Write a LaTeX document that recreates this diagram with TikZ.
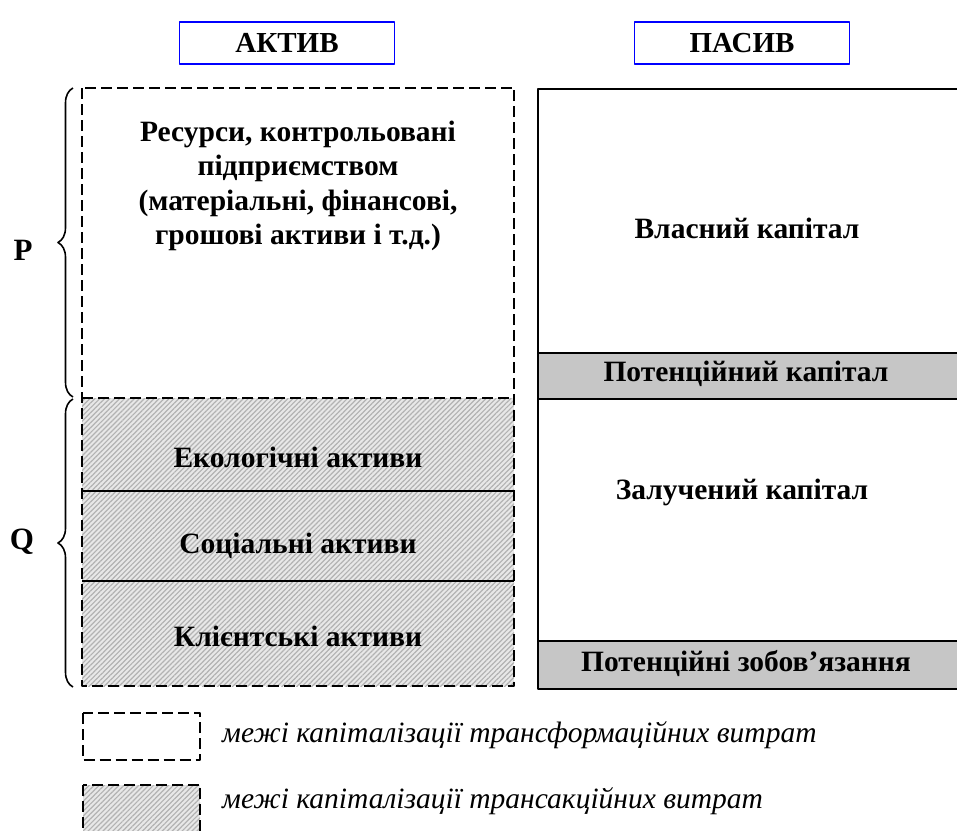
\documentclass[tikz,border=0pt]{standalone}
\usepackage{fontspec}
\setmainfont{Liberation Serif}
\usetikzlibrary{patterns.meta,decorations.pathreplacing,positioning}
\tikzset{
	hdr/.style={draw=blue,line width=1.8pt,minimum width=215pt,minimum height=42pt,inner sep=0pt,font=\bfseries\fontsize{29}{32}\selectfont},
	dashline/.style={line width=2pt,dash pattern=on 11pt off 5pt},
	hatchcell/.style={anchor=north west,minimum width=432pt,inner sep=0pt,fill=gray!18,
		postaction={pattern={Lines[angle=45,distance=3.5pt,line width=1.2pt]},pattern color=gray!60}},
	cell/.style={anchor=north west,minimum width=423pt,inner sep=0pt,draw,line width=2pt},
	band/.style={cell,fill=gray!50!white!90},
	lbl/.style={font=\bfseries\fontsize{29.5}{34.5}\selectfont,align=center,inner sep=0pt},
	legtext/.style={font=\itshape\fontsize{29.5}{33}\selectfont,anchor=west,inner sep=0pt}
}
\begin{document}
\begin{tikzpicture}[x=1pt,y=-1pt,line join=round]
	\useasboundingbox (0,0) rectangle (957,830);
	\clip (0,0) rectangle (957,830);
	\def\xl{82} \def\xr{514} \def\xa{537}
	% headers
	\node[hdr] (aktiv) at (287,43) {АКТИВ};
	\node[hdr] (pasiv) at (742,43) {ПАСИВ};
	% asset column
	\node[anchor=north west,minimum width=432pt,minimum height=310pt,inner sep=0pt] (res) at (\xl,88) {};
	\node[hatchcell,minimum height=93pt] (eco) at (\xl,398) {};
	\node[hatchcell,minimum height=90pt] (soc) at (\xl,491) {};
	\node[hatchcell,minimum height=105pt] (cli) at (\xl,581) {};
	\draw[line width=2pt] (eco.south west) -- (eco.south east) (soc.south west) -- (soc.south east);
	\draw[dashline] (res.north west) rectangle (cli.south east) (res.south west) -- (res.south east);
	\node[lbl] (restext) at (298,186) {Ресурси, контрольовані\\підприємством\\(матеріальні, фінансові,\\грошові активи і т.д.)};
	\node[lbl] (ecotext) at (298,457) {Екологічні активи};
	\node[lbl] (soctext) at (298,546) {Соціальні активи};
	\node[lbl] (clitext) at (298,636) {Клієнтські активи};
	% liability column
	\node[cell,minimum height=264pt] (own) at (\xa,88) {};
	\node[band,minimum height=46pt] (potcap) at (\xa,352) {};
	\node[cell,minimum height=242pt] (borr) at (\xa,398) {};
	\node[band,minimum height=48pt] (potobl) at (\xa,640) {};
	\node[lbl] (owntext) at (747,228) {Власний капітал};
	\node[lbl] (potcaptext) at (746,374) {Потенційний капітал};
	\node[lbl] (borrtext) at (742,492) {Залучений капітал};
	\node[lbl] (potobltext) at (746,663) {Потенційні зобов’язання};
	% braces
	\draw[line width=1.6pt,decorate,decoration={brace,amplitude=15pt}] (73,397) -- (73,88) node[midway] (pb) {};
	\draw[line width=1.6pt,decorate,decoration={brace,amplitude=15pt}] (73,687) -- (73,399) node[midway] (qb) {};
	\node[lbl,font=\bfseries\fontsize{31}{34}\selectfont] (p) at (23,250) {P};
	\node[lbl,font=\bfseries\fontsize{31}{34}\selectfont] (q) at (22,542) {Q};
	% legend
	\node[anchor=north west,minimum width=117pt,minimum height=47pt,inner sep=0pt] (lg1) at (83,713) {};
	\draw[dashline] (lg1.north west) rectangle (lg1.south east);
	\node[hatchcell,minimum width=117pt,minimum height=60pt] (lg2) at (83,785) {};
	\draw[dashline] (lg2.north west) rectangle (lg2.south east);
	\node[legtext] (lg1text) at (222,735) {межі капіталізації трансформаційних витрат};
	\node[legtext] (lg2text) at (222,801) {межі капіталізації трансакційних витрат};
\end{tikzpicture}
\end{document}
